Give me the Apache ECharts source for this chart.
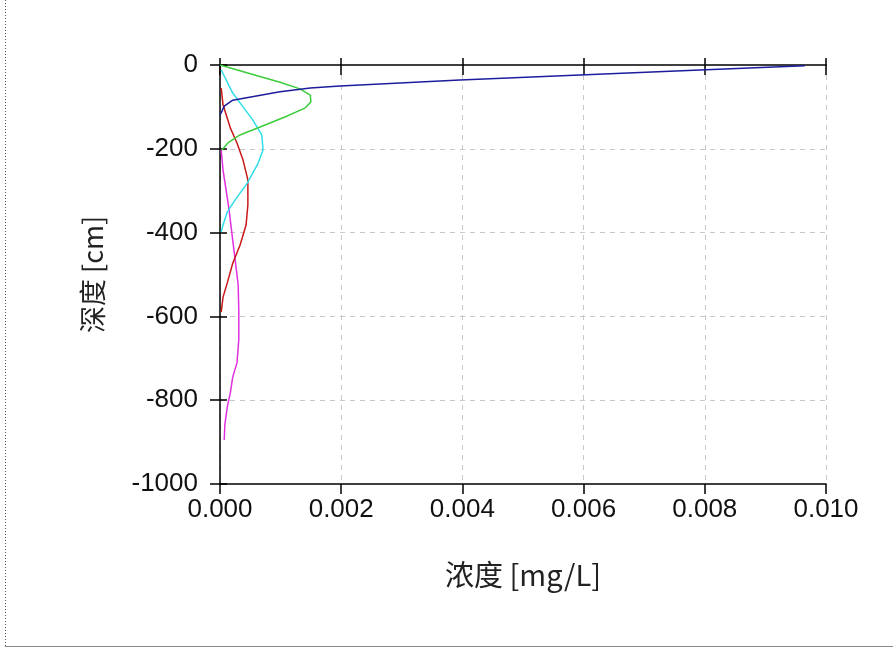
<!DOCTYPE html>
<html>
<head>
<meta charset="utf-8">
<script src="https://cdn.jsdelivr.net/npm/echarts@6/dist/echarts.min.js"></script>
<style>
html,body{margin:0;padding:0;background:#fff;}
#c{width:893px;height:650px;}
</style>
</head>
<body>
<div id="c"></div>
<script>
// concentration [mg/L], depth [cm]
const xTicks = [0, 0.002, 0.004, 0.006, 0.008, 0.010];
const yTicks = [0, -200, -400, -600, -800, -1000];

const blueConc  = [0.00965, 0.00792, 0.00594, 0.00396, 0.00198, 0.00149, 0.00099, 0.00021, 0.00007, 0.0];
const blueDepth = [-2, -12, -24, -36, -50, -55, -64, -84, -98, -120];

const greenConc  = [0.0, 0.0005, 0.00099, 0.00132, 0.00149, 0.0015, 0.0014, 0.00107, 0.00066, 0.00033, 0.00013, 0.00003];
const greenDepth = [0, -21, -41, -57, -72, -88, -103, -124, -148, -167, -186, -203];

const cyanConc  = [0.00002, 0.00021, 0.00038, 0.00054, 0.00069, 0.00071, 0.00063, 0.00045, 0.00025, 0.00012, 0.00005, 0.00002];
const cyanDepth = [-12, -67, -100, -131, -167, -203, -234, -282, -322, -351, -382, -399];

const redConc  = [0.00002, 0.00005, 0.00017, 0.00028, 0.00038, 0.00046, 0.00046, 0.00043, 0.00033, 0.00021, 0.00012, 0.00005, 0.00002];
const redDepth = [-55, -95, -150, -186, -227, -274, -334, -382, -430, -473, -520, -554, -590];

const magConc  = [0.00002, 0.00005, 0.0001, 0.00015, 0.0002, 0.00025, 0.0003, 0.00031, 0.00031, 0.00028, 0.00021, 0.00017, 0.00012, 0.00008, 0.00007];
const magDepth = [-203, -251, -298, -346, -406, -465, -525, -585, -656, -711, -745, -783, -816, -859, -895];

const xName = '浓度 [mg/L]';
const yName = '深度 [cm]';

function pairs(xs, ys){ return xs.map((v,i)=>[v, ys[i]]); }

const chart = echarts.init(document.getElementById('c'));
const tickFont = {fontFamily:'Liberation Sans, Arial, sans-serif', fontSize:26, color:'#111'};
const xMin = xTicks[0], xMax = xTicks[xTicks.length-1], xInt = xTicks[1]-xTicks[0];
const yMin = yTicks[yTicks.length-1], yMax = yTicks[0], yInt = yTicks[0]-yTicks[1];

function xAx(extra){ return Object.assign({type:'value', min:xMin, max:xMax, interval:xInt, splitLine:{show:false}, axisLabel:{show:false}, axisLine:{show:false}, axisTick:{show:false}}, extra); }
function yAx(extra){ return Object.assign({type:'value', min:yMin, max:yMax, interval:yInt, splitLine:{show:false}, axisLabel:{show:false}, axisLine:{show:false}, axisTick:{show:false}}, extra); }

const lineSeries = (name, xs, ys, color) => ({
  name, type:'line', data:pairs(xs, ys), showSymbol:false, symbol:'none',
  lineStyle:{color, width:1.5}, itemStyle:{color}, xAxisIndex:0, yAxisIndex:0, animation:false, z:3
});

chart.setOption({
  animation:false,
  backgroundColor:'#ffffff',
  grid:{left:220, right:67, top:65, bottom:166, containLabel:false},
  xAxis:[
    xAx({position:'bottom',
      axisLine:{show:true, onZero:false, lineStyle:{color:'#000', width:1.5}},
      axisTick:{show:true, length:10, lineStyle:{color:'#000', width:1.5}},
      axisLabel:Object.assign({show:true, margin:13, formatter:v=>v.toFixed(3)}, tickFont),
      splitLine:{show:true, lineStyle:{color:'#c8c8c8', type:[5,5], width:1}},
      name:xName, nameLocation:'middle', nameGap:76,
      nameTextStyle:{fontFamily:'Noto Sans CJK SC, sans-serif', fontSize:29, color:'#222'}
    }),
    xAx({position:'bottom', axisTick:{show:true, inside:true, length:7, lineStyle:{color:'#000', width:1.5}}}),
    xAx({position:'top', axisLine:{show:true, onZero:false, lineStyle:{color:'#000', width:1.5}},
      axisTick:{show:true, length:7, lineStyle:{color:'#000', width:1.5}}}),
    xAx({position:'top', axisTick:{show:true, inside:true, length:10, lineStyle:{color:'#000', width:1.5}}})
  ],
  yAxis:[
    yAx({position:'left',
      axisLine:{show:true, onZero:false, lineStyle:{color:'#000', width:1.5}},
      axisTick:{show:true, length:10, lineStyle:{color:'#000', width:1.5}},
      axisLabel:Object.assign({show:true, margin:22, formatter:v=>String(v)}, tickFont),
      splitLine:{show:true, showMinLine:false, showMaxLine:false, lineStyle:{color:'#c8c8c8', type:[5,5], width:1}},
      name:yName, nameLocation:'middle', nameGap:114, nameRotate:90,
      nameTextStyle:{fontFamily:'Noto Sans CJK SC, sans-serif', fontSize:27, color:'#222'}
    }),
    yAx({position:'left', axisTick:{show:true, inside:true, length:7, lineStyle:{color:'#000', width:1.5}}})
  ],
  series:[
    lineSeries('magenta', magConc, magDepth, '#e030e0'),
    lineSeries('red', redConc, redDepth, '#c81818'),
    lineSeries('cyan', cyanConc, cyanDepth, '#30dde8'),
    lineSeries('green', greenConc, greenDepth, '#3ccc3c'),
    lineSeries('blue', blueConc, blueDepth, '#1c1c9c')
  ],
  graphic:[
    {type:'line', shape:{x1:5.5, y1:0, x2:5.5, y2:647}, style:{stroke:'#555', lineWidth:1, lineDash:[1,2]}},
    {type:'line', shape:{x1:5, y1:646.5, x2:893, y2:646.5}, style:{stroke:'#888', lineWidth:1}}
  ]
});
</script>
</body>
</html>
